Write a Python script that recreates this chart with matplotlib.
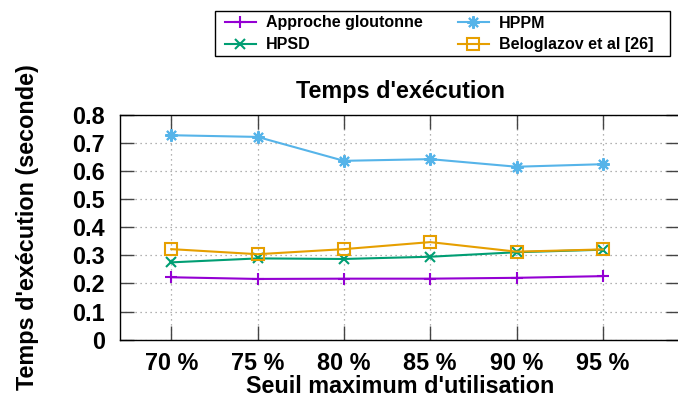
import matplotlib
matplotlib.use("Agg")
import matplotlib.pyplot as plt
from matplotlib.patches import Rectangle

plt.rcParams['font.family'] = ['Liberation Sans', 'DejaVu Sans']
plt.rcParams['font.weight'] = 'bold'

categories = ["70 %", "75 %", "80 %", "85 %", "90 %", "95 %"]
greedy = [0.222, 0.216, 0.217, 0.217, 0.220, 0.226]
hpsd = [0.275, 0.289, 0.287, 0.295, 0.311, 0.320]
hppm = [0.727, 0.721, 0.636, 0.642, 0.615, 0.624]
belo = [0.322, 0.304, 0.322, 0.347, 0.313, 0.321]
yticks = [0, 0.1, 0.2, 0.3, 0.4, 0.5, 0.6, 0.7, 0.8]
ytick_labels = ["0", "0.1", "0.2", "0.3", "0.4", "0.5", "0.6", "0.7", "0.8"]

FS = 16.8

fig = plt.figure(figsize=(6.78, 3.98), dpi=100)
ax = fig.add_axes([120/678, 1-339.7/398, 560/678, 225/398])

x = list(range(len(categories)))
l1, = ax.plot(x, greedy, color='#9400D3', lw=1.5, marker='+', ms=8, mew=1.5, label='Approche gloutonne')
l2, = ax.plot(x, hpsd, color='#009E73', lw=1.5, marker='x', ms=7.5, mew=1.5, label='HPSD')
l3, = ax.plot(x, hppm, color='#56B4E9', lw=1.5, marker=(8, 2, 0), ms=9, mew=1.5, label='HPPM')
l4, = ax.plot(x, belo, color='#E69F00', lw=1.5, marker='s', ms=8, mew=1.5,
              markerfacecolor='none', label='Beloglazov et al [26]')

ax.set_xlim(-0.594, 5.894)
ax.set_ylim(0, 0.8)
ax.set_xticks(x)
ax.set_xticklabels(categories)
ax.set_yticks(yticks)
ax.set_yticklabels(ytick_labels)
ax.tick_params(axis='both', direction='in', length=10, width=1, color='#444444',
               labelsize=FS, pad=9, top=True, right=True)
ax.tick_params(axis='y', pad=11)
ax.grid(True, linestyle=(0, (1, 3)), color='#999999', lw=0.9)
ax.set_axisbelow(True)
for s in ax.spines.values():
    s.set_linewidth(1.0)
    s.set_color('black')

ax.set_title("Temps d'exécution", fontsize=FS, fontweight='bold', pad=12)
ax.set_xlabel("Seuil maximum d'utilisation", fontsize=FS, fontweight='bold', labelpad=0)
ax.set_ylabel("Temps d'exécution (seconde)", fontsize=FS, fontweight='bold', labelpad=24)

# legend box
fig.patches.append(Rectangle((215/678, 1-55.7/398), (670-215)/678, 44.7/398,
                             transform=fig.transFigure, fill=False, lw=1.0,
                             edgecolor='black'))
leg_kw = dict(ncol=1, loc='upper left', frameon=False,
              prop={'size': 11.5, 'weight': 'bold'}, handlelength=1.94,
              handletextpad=0.63, labelspacing=0.42, borderpad=0,
              borderaxespad=0)
legA = fig.legend(handles=[l1, l2], bbox_to_anchor=(225/678, 1-15.5/398), **leg_kw)
legB = fig.legend(handles=[l3, l4], bbox_to_anchor=(458/678, 1-15.5/398), **leg_kw)

fig.savefig('out.png', dpi=100)
